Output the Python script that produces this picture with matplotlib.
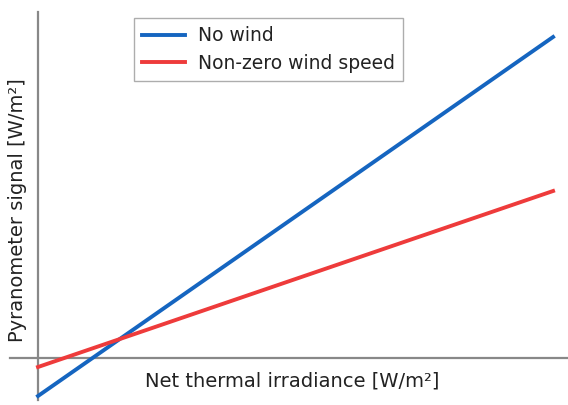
import matplotlib
matplotlib.use("Agg")
import matplotlib.pyplot as plt

# Data (arbitrary units)
x_vals = [0, 10]
no_wind = [-3.8, 32.1]
with_wind = [-0.9, 16.7]
labels = ["No wind", "Non-zero wind speed"]
xlabel = "Net thermal irradiance [W/m²]"
ylabel = "Pyranometer signal [W/m²]"

fig = plt.figure(figsize=(5.68, 4.05), dpi=100)
ax = fig.add_axes([0, 0, 1, 1])
ax.set_xlim(-0.738, 10.29)
ax.set_ylim(-4.7, 35.8)

blue = "#1565C0"
red = "#EE3B3B"
ax.plot(x_vals, no_wind, color=blue, lw=2.8, label=labels[0], zorder=3)
ax.plot(x_vals, with_wind, color=red, lw=2.8, label=labels[1], zorder=3)

for s in ["top", "right"]:
    ax.spines[s].set_visible(False)
ax.spines["left"].set_position(("data", 0))
ax.spines["bottom"].set_position(("data", 0))
ax.spines["left"].set_bounds(-4.2, 34.6)
ax.spines["bottom"].set_bounds(-0.54, 10.29)
for s in ["left", "bottom"]:
    ax.spines[s].set_color("#888888")
    ax.spines[s].set_linewidth(1.6)
    ax.spines[s].set_zorder(1)
ax.set_xticks([])
ax.set_yticks([])

fig.text(292 / 568, 1 - 381 / 405, xlabel, fontsize=14, ha="center", va="center", color="#222222")
fig.text(18 / 568, 1 - 210 / 405, ylabel, fontsize=14, rotation=90, ha="center", va="center", color="#222222")

leg = ax.legend(loc="upper left", bbox_to_anchor=(134 / 568, 1 - 18 / 405), fontsize=13.5,
                frameon=True, fancybox=False, edgecolor="#999999", handlelength=2.25,
                borderpad=0.45, labelspacing=0.45, handletextpad=0.7, borderaxespad=0)
leg.get_frame().set_linewidth(1.0)
for t in leg.get_texts():
    t.set_color("#222222")

fig.savefig("out.png", dpi=100)
